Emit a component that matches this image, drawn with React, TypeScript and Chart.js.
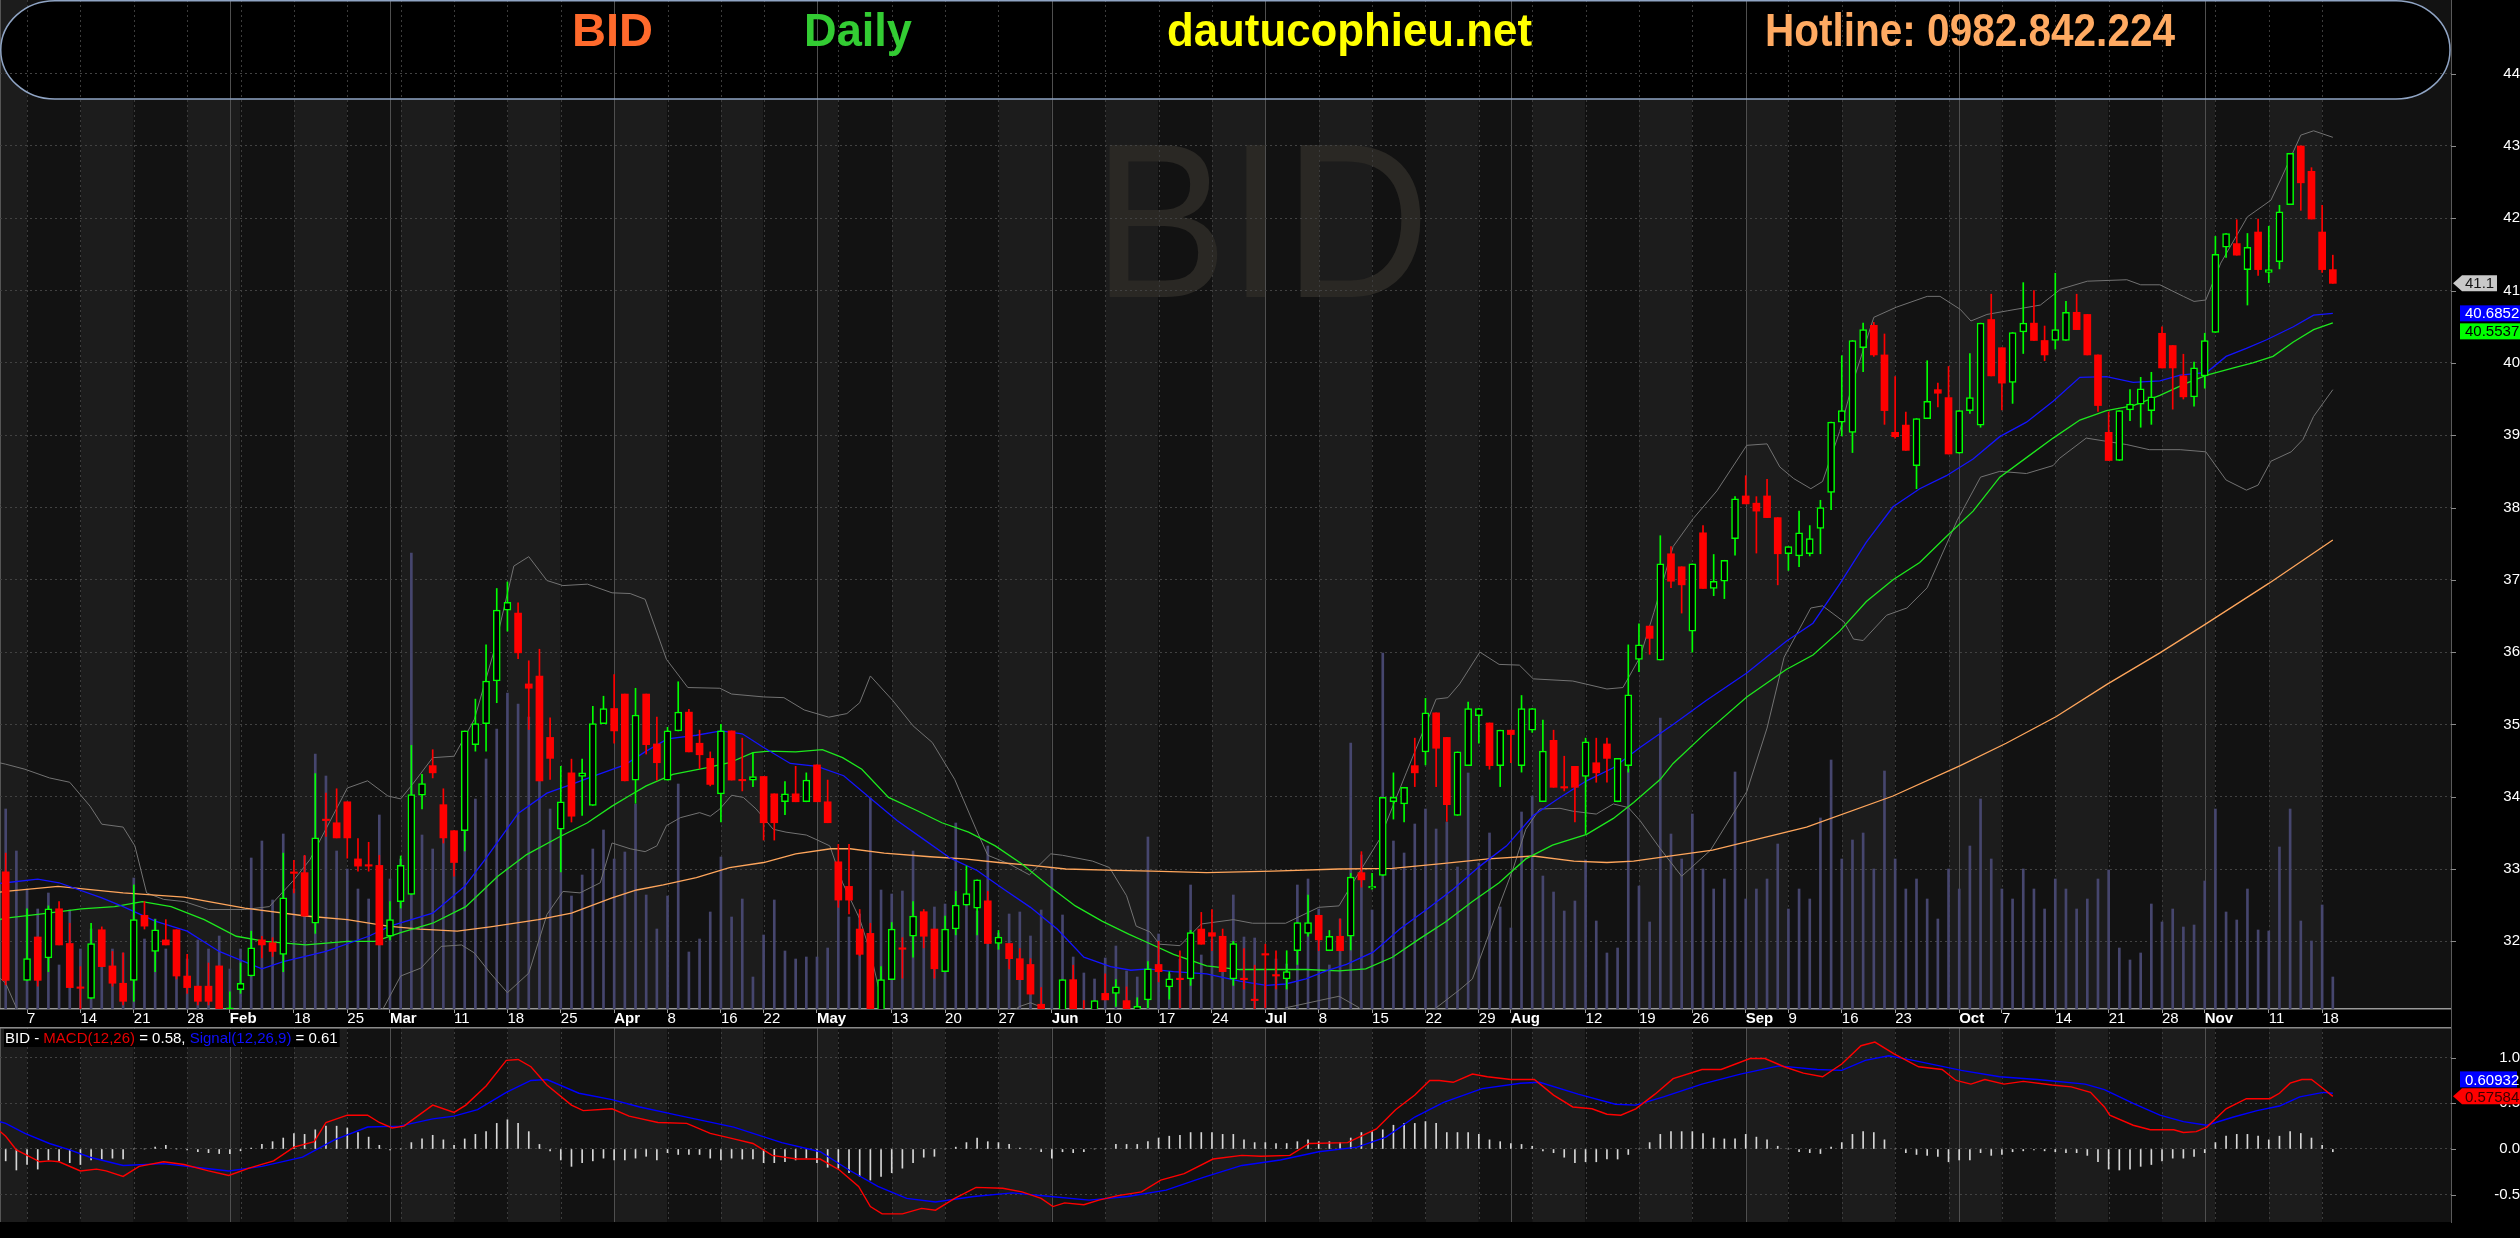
import React, { useEffect, useRef } from 'react';
import { Chart, registerables } from 'chart.js';

Chart.register(...registerables);

// ---------------- DATA ----------------
const symbol = 'BID';
const headerLabels = ['BID', 'Daily', 'dautucophieu.net', 'Hotline: 0982.842.224'];

// daily candles, 3 Jan 2019 .. 19 Nov 2019 (index 0..218)
const open = [
  32.96, 31.00, 31.46, 32.06, 31.77, 32.45, 31.97, 31.37, 31.21, 32.16,
  31.66, 31.42, 31.46, 32.36, 31.86, 32.02, 32.16, 31.52, 31.38, 31.38,
  31.66, 30.95, 31.33, 31.52, 32.02, 31.98, 31.82, 32.96, 32.95, 32.25,
  33.69, 33.64, 33.93, 33.14, 33.06, 33.05, 32.07, 32.55, 32.65, 34.02,
  34.43, 33.89, 33.53, 33.53, 34.72, 35.01, 35.60, 36.58, 36.54, 35.56,
  35.67, 34.82, 33.55, 34.33, 34.28, 33.88, 35.01, 35.22, 35.42, 34.23,
  35.42, 34.73, 34.23, 34.91, 35.17, 34.74, 34.53, 34.04, 34.91, 34.24,
  34.23, 34.28, 34.04, 33.93, 34.04, 33.93, 34.44, 33.93, 33.10, 32.76,
  32.17, 32.11, 31.00, 31.47, 31.91, 32.07, 32.41, 32.17, 31.58, 32.17,
  32.50, 32.46, 32.56, 31.97, 31.97, 31.76, 31.68, 31.13, 31.00, 31.00,
  31.47, 31.05, 31.00, 31.28, 31.28, 31.18, 31.00, 31.19, 31.68, 31.37,
  31.49, 31.48, 32.17, 32.12, 32.07, 31.48, 31.49, 31.20, 31.83, 31.54,
  31.48, 31.87, 32.11, 32.36, 31.87, 32.07, 32.07, 32.95, 32.74, 32.91,
  33.93, 33.90, 34.43, 34.62, 35.16, 34.82, 33.74, 34.43, 35.12, 35.02,
  34.43, 34.92, 34.43, 34.92, 33.93, 34.78, 34.14, 34.42, 34.28, 34.47,
  34.73, 33.93, 34.43, 35.90, 36.36, 35.89, 37.36, 37.18, 36.29, 37.65,
  36.88, 36.98, 37.57, 38.16, 38.06, 38.16, 37.86, 37.36, 37.33, 37.36,
  37.71, 38.21, 39.18, 39.04, 40.21, 40.52, 40.11, 39.04, 39.14, 38.58,
  39.23, 39.63, 39.52, 38.75, 39.34, 39.14, 40.60, 40.21, 39.73, 40.43,
  40.55, 40.31, 40.31, 40.31, 40.70, 40.67, 40.11, 39.04, 38.65, 39.35,
  39.43, 39.34, 40.41, 40.24, 39.82, 39.53, 39.82, 40.42, 41.60, 41.65,
  41.29, 41.81, 41.25, 41.40, 42.19, 43.00, 42.65, 41.81, 41.29,
];
const high = [
  33.22, 31.05, 32.45, 32.06, 32.49, 32.55, 32.25, 31.65, 32.25, 32.20,
  31.86, 31.84, 32.78, 32.55, 32.30, 32.30, 32.16, 31.82, 31.38, 31.70,
  31.66, 31.30, 31.70, 32.14, 32.07, 32.05, 33.22, 33.12, 33.19, 34.32,
  34.05, 34.11, 33.93, 33.42, 33.37, 33.19, 32.55, 33.18, 34.71, 34.31,
  34.65, 34.11, 33.53, 34.91, 35.35, 36.10, 36.88, 36.97, 36.68, 35.88,
  36.04, 35.09, 34.42, 34.52, 34.52, 35.25, 35.39, 35.69, 35.42, 35.50,
  35.42, 35.10, 34.96, 35.59, 35.21, 34.92, 34.62, 35.00, 34.91, 34.81,
  34.61, 34.28, 34.04, 34.21, 34.42, 34.33, 34.44, 34.23, 33.34, 33.34,
  32.44, 32.25, 31.65, 32.26, 32.05, 32.55, 32.44, 32.17, 32.35, 32.69,
  33.04, 32.85, 32.69, 32.15, 31.97, 31.90, 31.76, 31.36, 31.05, 31.47,
  31.67, 31.18, 31.18, 31.55, 31.47, 31.37, 31.22, 31.72, 32.00, 31.58,
  31.87, 32.15, 32.40, 32.44, 32.17, 32.00, 31.90, 31.67, 31.96, 31.87,
  31.87, 32.26, 32.64, 32.36, 32.15, 32.31, 32.94, 33.24, 32.94, 33.99,
  34.33, 34.13, 34.81, 35.36, 35.16, 34.82, 34.62, 35.31, 35.22, 35.02,
  34.92, 34.92, 35.40, 35.22, 35.06, 34.92, 34.56, 34.42, 34.81, 34.81,
  34.81, 34.53, 36.10, 36.39, 36.36, 37.61, 37.46, 37.18, 37.22, 37.75,
  37.35, 37.27, 38.15, 38.44, 38.15, 38.39, 37.86, 37.46, 37.95, 37.75,
  38.10, 39.18, 40.10, 40.31, 40.55, 40.56, 40.40, 39.81, 39.32, 39.23,
  40.03, 39.72, 39.95, 39.34, 40.13, 40.55, 40.95, 40.21, 40.42, 41.11,
  41.00, 40.51, 41.24, 40.85, 40.95, 40.67, 40.11, 39.32, 39.34, 39.63,
  39.80, 39.87, 40.50, 40.24, 40.12, 40.01, 40.41, 41.75, 41.79, 41.98,
  41.79, 41.99, 41.89, 42.18, 42.90, 43.00, 42.70, 42.18, 41.49,
];
const low = [
  31.40, 30.60, 31.46, 31.38, 31.58, 31.95, 31.36, 31.07, 31.21, 31.65,
  31.38, 31.12, 31.17, 32.17, 31.58, 31.95, 31.48, 31.28, 31.12, 31.12,
  30.90, 30.90, 31.28, 31.52, 31.77, 31.79, 31.58, 32.67, 32.35, 32.11,
  33.45, 33.43, 33.15, 32.97, 32.97, 31.95, 32.02, 32.46, 32.65, 33.83,
  34.26, 33.36, 32.90, 33.25, 34.63, 34.63, 35.30, 36.29, 35.91, 34.93,
  34.22, 34.24, 32.96, 33.65, 33.74, 33.88, 35.01, 34.74, 34.22, 33.91,
  34.59, 34.23, 34.23, 34.91, 34.62, 34.39, 34.15, 33.65, 34.23, 34.08,
  34.14, 33.40, 33.40, 33.75, 33.93, 33.93, 33.93, 33.64, 32.47, 32.38,
  31.80, 30.90, 30.90, 31.47, 31.49, 31.78, 31.91, 31.49, 31.58, 32.09,
  32.50, 32.09, 31.97, 31.89, 31.62, 31.47, 31.27, 30.95, 30.80, 30.95,
  30.95, 30.90, 30.95, 31.19, 31.10, 30.95, 30.95, 31.08, 31.44, 31.20,
  31.08, 31.39, 31.96, 31.87, 31.58, 31.39, 31.34, 31.05, 31.08, 31.34,
  31.34, 31.68, 32.07, 31.87, 31.87, 31.87, 31.88, 32.75, 32.72, 32.91,
  33.69, 33.65, 34.14, 34.44, 34.14, 33.66, 33.74, 34.43, 34.74, 34.38,
  34.14, 34.47, 34.34, 34.89, 33.93, 34.13, 34.08, 33.65, 33.49, 34.20,
  34.20, 33.93, 34.34, 35.73, 35.97, 35.89, 36.89, 36.54, 36.00, 36.88,
  36.78, 36.74, 37.34, 38.05, 37.37, 37.86, 36.93, 37.13, 37.18, 37.33,
  37.36, 37.97, 38.99, 38.76, 39.88, 40.09, 39.15, 38.96, 38.79, 38.26,
  39.23, 39.39, 38.74, 38.75, 39.30, 39.11, 39.82, 39.35, 39.44, 40.13,
  40.31, 40.03, 40.19, 40.31, 40.46, 40.11, 39.33, 38.65, 38.65, 39.20,
  39.11, 39.15, 39.93, 39.36, 39.50, 39.40, 39.65, 40.42, 41.46, 41.49,
  40.80, 41.21, 41.11, 41.30, 42.19, 42.11, 41.99, 41.25, 41.10,
];
const close = [
  31.46, 30.85, 31.76, 31.46, 32.45, 31.95, 31.36, 31.35, 31.97, 31.65,
  31.42, 31.17, 32.30, 32.21, 32.16, 31.95, 31.52, 31.36, 31.17, 31.17,
  30.95, 31.08, 31.42, 31.91, 31.95, 31.86, 32.60, 32.94, 32.35, 33.43,
  33.67, 33.43, 33.43, 33.04, 33.04, 31.95, 32.30, 33.05, 34.03, 34.18,
  34.33, 33.43, 33.09, 34.91, 35.01, 35.60, 36.58, 36.69, 35.99, 35.50,
  34.22, 34.53, 33.93, 33.73, 34.33, 35.01, 35.22, 34.91, 34.22, 35.13,
  34.72, 34.47, 34.91, 35.17, 34.62, 34.58, 34.17, 34.91, 34.23, 34.22,
  34.28, 33.64, 33.64, 34.04, 33.93, 34.23, 33.93, 33.64, 32.57, 32.57,
  31.82, 31.00, 31.47, 32.17, 31.89, 32.35, 32.07, 31.62, 32.17, 32.50,
  32.66, 32.85, 31.97, 32.06, 31.76, 31.47, 31.27, 31.00, 30.90, 31.47,
  31.00, 31.00, 31.18, 31.19, 31.37, 31.00, 31.10, 31.62, 31.58, 31.48,
  31.47, 32.12, 31.96, 32.07, 31.58, 31.97, 31.47, 31.18, 31.81, 31.52,
  31.58, 32.26, 32.26, 32.02, 32.07, 31.87, 32.89, 32.85, 32.76, 33.99,
  33.99, 34.13, 34.33, 35.16, 34.67, 33.89, 34.62, 35.22, 35.22, 34.43,
  34.92, 34.86, 35.22, 35.22, 34.63, 34.13, 34.12, 34.13, 34.76, 34.33,
  34.53, 34.53, 35.41, 36.10, 36.19, 37.22, 36.98, 36.93, 37.22, 36.88,
  36.98, 37.27, 38.12, 38.05, 37.95, 37.86, 37.36, 37.46, 37.65, 37.57,
  38.00, 39.18, 39.34, 40.31, 40.46, 40.11, 39.34, 38.98, 38.79, 39.23,
  39.47, 39.58, 38.74, 39.34, 39.52, 40.55, 39.82, 39.72, 40.42, 40.55,
  40.31, 40.11, 40.46, 40.70, 40.46, 40.11, 39.41, 38.65, 39.34, 39.43,
  39.64, 39.53, 39.93, 39.93, 39.53, 39.93, 40.31, 41.50, 41.79, 41.49,
  41.60, 41.29, 41.29, 42.09, 42.90, 42.49, 41.99, 41.29, 41.10,
];
// volume, million shares
const volume = [
  4.0, 3.16, 2.4, 2.0, 2.32, 0.88, 1.98, 1.2, 1.6, 1.5,
  1.2, 1.12, 2.62, 1.4, 1.8, 1.2, 1.4, 1.0, 1.38, 1.2,
  1.46, 0.8, 1.2, 3.02, 3.36, 2.18, 3.5, 2.4, 3.06, 5.1,
  4.66, 3.16, 2.8, 2.4, 2.2, 3.88, 2.6, 3.0, 9.12, 3.48,
  3.2, 3.6, 3.0, 4.0, 4.2, 5.0, 5.6, 6.32, 6.1, 5.84,
  5.0, 4.0, 3.6, 2.26, 2.68, 3.2, 3.58, 3.0, 3.14, 4.1,
  2.28, 1.6, 2.26, 4.5, 1.14, 1.4, 1.94, 3.04, 1.84, 2.2,
  0.64, 1.48, 2.18, 1.16, 1.0, 1.04, 1.04, 1.22, 2.2, 1.84,
  1.9, 4.22, 2.38, 2.3, 2.36, 3.16, 1.72, 2.04, 2.1, 3.72,
  2.24, 1.96, 3.26, 1.52, 1.9, 1.94, 1.46, 1.98, 2.84, 1.88,
  1.04, 0.72, 0.6, 1.02, 1.26, 0.76, 0.64, 3.44, 1.5, 0.7,
  1.0, 2.48, 1.08, 1.4, 1.3, 2.28, 1.44, 1.42, 0.8, 1.0,
  0.9, 2.48, 2.6, 2.0, 0.88, 1.8, 5.32, 3.08, 1.98, 7.12,
  3.36, 3.12, 3.7, 4.0, 3.6, 3.74, 2.84, 4.72, 2.92, 3.52,
  2.04, 1.62, 3.94, 4.26, 2.66, 2.34, 1.96, 2.16, 2.98, 1.76,
  1.12, 1.22, 4.8, 2.46, 1.74, 5.82, 3.5, 3.0, 3.9, 2.8,
  2.4, 2.6, 4.74, 2.2, 2.4, 2.6, 3.3, 2.0, 2.4, 2.2,
  3.82, 4.98, 3.0, 3.38, 3.52, 2.8, 4.76, 3.0, 2.4, 2.6,
  2.2, 1.8, 2.8, 2.4, 3.26, 4.2, 3.0, 2.4, 2.2, 2.8,
  2.4, 2.0, 2.6, 2.4, 2.0, 2.2, 2.6, 2.78, 1.22, 0.98,
  1.12, 2.1, 1.74, 2.0, 1.64, 1.68, 2.56, 4.0, 1.94, 1.78,
  2.4, 1.58, 1.56, 3.24, 4.0, 1.76, 1.36, 2.08, 0.64,
];
// indicator lines, read as [bar index, value]
const maFast = [
  [-0.6, 32.8], [0, 32.81], [3, 32.86], [5, 32.81], [9, 32.6], [11, 32.48], [14, 32.28], [17, 32.14], [20, 31.86], [24, 31.62],
  [26, 31.72], [30, 31.86], [34, 32.07], [36, 32.21], [40, 32.39], [43, 32.76], [45, 33.15], [48, 33.77], [50.7, 34.05], [53, 34.17],
  [55, 34.28], [58, 34.44], [60, 34.63], [62, 34.8], [64.7, 34.85], [67, 34.91], [69, 34.87], [71, 34.68], [73.5, 34.46], [76, 34.42],
  [78.5, 34.29], [81, 33.98], [83.5, 33.67], [86, 33.41], [88.5, 33.15], [91, 32.98], [93.5, 32.72], [96, 32.47], [98.5, 32.17], [101, 31.78],
  [103.5, 31.65], [105.4, 31.6], [107, 31.62], [109.4, 31.58], [112.5, 31.55], [115.6, 31.45], [118.1, 31.39], [119.9, 31.41], [121.8, 31.48], [123.7, 31.59],
  [125.6, 31.68], [128.1, 31.85], [130.6, 32.17], [133.1, 32.44], [135.6, 32.72], [138.1, 33.04], [140.6, 33.32], [143.1, 33.74], [145.6, 33.99], [148.1, 34.22],
  [150.6, 34.4], [153.1, 34.68], [156.2, 35.0], [159.3, 35.33], [163.1, 35.71], [166.8, 36.15], [169.3, 36.4], [171.8, 36.94], [174.3, 37.52], [176.8, 38.01],
  [179.3, 38.26], [181.8, 38.44], [184.3, 38.67], [186.8, 38.98], [189.3, 39.18], [191.8, 39.47], [194.3, 39.8], [196.8, 39.81], [199.3, 39.73], [201.8, 39.75],
  [203.7, 39.83], [206.2, 39.87], [208, 40.09], [209.9, 40.2], [211.8, 40.32], [214.3, 40.5], [216.2, 40.66], [218, 40.6852],
];
const maMid = [
  [-0.6, 32.3], [0, 32.32], [3.4, 32.38], [7.1, 32.45], [10.2, 32.48], [12.8, 32.55], [15.5, 32.48], [18.6, 32.3], [21.6, 32.07], [24.3, 32.0],
  [28.1, 31.95], [32, 32.0], [34.6, 32.0], [37, 32.12], [40, 32.25], [43.1, 32.48], [46.1, 32.9], [48.8, 33.2], [51.8, 33.44], [54.5, 33.64],
  [56.8, 33.87], [58.5, 34.02], [60, 34.15], [62.5, 34.31], [65.6, 34.4], [67.8, 34.47], [70, 34.61], [71.5, 34.63], [74, 34.62], [76.5, 34.65],
  [78.4, 34.54], [80.2, 34.38], [82.7, 33.99], [85.2, 33.82], [87.7, 33.64], [90.2, 33.51], [92.7, 33.32], [95.2, 33.07], [97.7, 32.77], [100.2, 32.49],
  [102.7, 32.28], [105.2, 32.1], [107, 31.98], [109.4, 31.82], [112.5, 31.66], [115.6, 31.61], [118.7, 31.61], [121.8, 31.61], [124.9, 31.59], [127.4, 31.62],
  [129.9, 31.78], [132.4, 32.03], [134.9, 32.27], [137.4, 32.55], [139.9, 32.81], [142.4, 33.14], [144.9, 33.33], [148.1, 33.48], [150.6, 33.7], [152.5, 33.92],
  [155, 34.24], [156.2, 34.46], [159.3, 34.89], [163.1, 35.38], [166.8, 35.76], [169.3, 35.96], [171.8, 36.29], [174.3, 36.7], [176.8, 37.0], [179.3, 37.24],
  [181.8, 37.6], [184.3, 37.95], [186.8, 38.42], [189.3, 38.69], [191.8, 38.96], [194.3, 39.21], [196.8, 39.34], [199.3, 39.41], [201.8, 39.55], [204.3, 39.72],
  [206.2, 39.83], [208.7, 39.93], [210.5, 40.0], [212.4, 40.09], [214.3, 40.29], [216.2, 40.46], [218, 40.5537],
];
const maLong = [
  [-0.6, 32.68], [0, 32.69], [4.9, 32.76], [11, 32.67], [16.7, 32.61], [22.4, 32.46], [28.1, 32.35], [32, 32.3], [35.8, 32.21], [38.8, 32.17],
  [42.3, 32.14], [45.4, 32.2], [49.9, 32.3], [53, 32.39], [56.8, 32.6], [59.1, 32.71], [61.6, 32.78], [64.7, 32.88], [67.8, 33.02], [71, 33.09],
  [74, 33.21], [77.3, 33.28], [79.1, 33.28], [82.3, 33.22], [86.6, 33.17], [89.8, 33.14], [93, 33.09], [96.1, 33.05], [99.3, 33.0], [104, 32.98],
  [107.4, 32.97], [112.5, 32.95], [118.7, 32.97], [124.9, 33.0], [129.9, 33.01], [134.3, 33.07], [138.9, 33.14], [143.1, 33.18], [146.9, 33.11], [150, 33.09],
  [152.5, 33.11], [155, 33.16], [159.9, 33.26], [168.7, 33.58], [176.8, 34.01], [183.1, 34.43], [187.4, 34.74], [192.1, 35.11], [196.8, 35.55], [201.8, 35.99],
  [206, 36.38], [212, 36.95], [218, 37.55],
];
const bbUpper = [
  [-0.6, 34.47], [0, 34.45], [1.8, 34.38], [4.1, 34.26], [6, 34.2], [7.9, 33.87], [9, 33.62], [11, 33.58], [12.1, 33.32], [13.2, 32.67],
  [14.8, 32.58], [16.7, 32.55], [19, 32.44], [22.4, 32.44], [24.7, 32.48], [27, 32.85], [28.5, 33.13], [32, 34.12], [33.9, 34.22], [35.8, 34.01],
  [37, 33.97], [38.1, 34.17], [40, 34.54], [42, 34.56], [43.9, 35.07], [45.7, 35.99], [47.6, 37.19], [49, 37.32], [50.7, 36.99], [52.2, 36.92],
  [54.5, 36.94], [56.8, 36.82], [58.5, 36.81], [59.9, 36.73], [61.9, 35.9], [63.9, 35.51], [66.9, 35.5], [68, 35.42], [71, 35.38], [72.9, 35.37],
  [74.8, 35.2], [77.1, 35.1], [78.8, 35.15], [80, 35.3], [81, 35.67], [83.1, 35.33], [85, 34.98], [86.8, 34.75], [88.9, 34.24], [90.9, 33.55],
  [92, 33.19], [94, 33.07], [95.9, 32.92], [97.9, 33.21], [99, 33.19], [101.8, 33.11], [103.4, 33.02], [105, 32.63], [105.9, 32.21], [107.2, 32.13],
  [108.1, 31.96], [110, 31.94], [112, 32.24], [115, 32.3], [116.8, 32.25], [119.9, 32.25], [123, 32.47], [124.9, 32.49], [126.2, 32.81], [128.7, 33.41],
  [131.2, 34.33], [134, 35.35], [135.1, 35.37], [136.2, 35.56], [138.1, 36.0], [139.9, 35.83], [141.8, 35.82], [143.1, 35.63], [146.8, 35.6], [150, 35.49],
  [151.5, 35.51], [153.1, 35.93], [154.4, 36.55], [156.2, 37.46], [158.1, 37.85], [160.3, 38.23], [163.1, 38.86], [165, 38.88], [166.2, 38.56], [167.5, 38.4],
  [169.1, 38.26], [170.2, 38.36], [171.8, 39.05], [173.1, 39.76], [175, 40.63], [177.1, 40.77], [180, 40.92], [181.2, 40.92], [183.1, 40.74], [184.1, 40.58],
  [185.6, 40.67], [187.5, 40.72], [190.6, 40.8], [192.5, 41.02], [195, 41.13], [198.7, 41.15], [200, 41.08], [201.8, 41.08], [204, 40.92], [205, 40.85],
  [206.1, 40.87], [207.5, 41.38], [210, 42.02], [212.2, 42.25], [213.1, 42.53], [215, 43.15], [216.2, 43.21], [218, 43.12],
];
const bbLower = [
  [-0.6, 31.5], [0, 31.42], [1, 31.08], [2, 30.8], [6, 30.6], [12, 30.7], [18, 30.6], [24, 30.5], [30, 30.6], [34, 30.9],
  [35.4, 31.08], [37, 31.52], [38.9, 31.63], [40.8, 31.93], [42.7, 31.95], [43.9, 31.84], [45.4, 31.56], [47, 31.29], [49, 31.56], [50.7, 32.37],
  [52.2, 32.69], [53.8, 32.67], [55.7, 32.81], [56.8, 33.36], [58.5, 33.28], [59.9, 33.24], [61, 33.32], [61.9, 33.6], [63.2, 33.71], [65, 33.78],
  [66, 33.73], [66.9, 33.83], [68, 34.02], [69.1, 33.99], [70.3, 33.83], [71.9, 33.55], [73.1, 33.51], [75, 33.47], [75.9, 33.41], [77.2, 33.32],
  [78.4, 32.81], [80, 32.31], [81, 31.85], [82.2, 31.08], [84, 30.7], [88, 30.6], [92, 30.8], [95, 31.1], [96, 31.15], [97.2, 31.08],
  [99, 30.8], [105, 30.6], [112, 30.7], [118, 30.9], [119.9, 31.08], [123, 31.18], [124.9, 31.24], [126.8, 31.08], [129, 30.7], [132, 30.7],
  [134, 31.08], [136.2, 31.33], [137.4, 31.48], [139, 32.12], [139.9, 32.49], [141.2, 33.0], [142.4, 33.55], [143.7, 33.83], [145.6, 33.84], [146.8, 33.8],
  [149, 33.76], [150.6, 33.9], [152, 33.85], [153.1, 33.67], [155, 33.28], [157, 32.9], [159.7, 33.26], [163.1, 34.07], [165, 34.95], [166.6, 35.93],
  [169.1, 36.61], [170.2, 36.64], [172.2, 36.42], [173.1, 36.18], [174, 36.16], [176.2, 36.51], [178.1, 36.61], [180, 36.89], [182.8, 37.82], [185, 38.42],
  [186.8, 38.5], [189.3, 38.47], [191.8, 38.58], [192.4, 38.68], [194.9, 38.96], [198.7, 38.87], [200.8, 38.8], [203.7, 38.8], [206.1, 38.77], [208, 38.38],
  [209.9, 38.24], [211, 38.31], [212.2, 38.64], [214.1, 38.77], [215.2, 38.94], [216.2, 39.26], [218, 39.63],
];
const macdLine = [
  [-0.6, 0.2], [0, 0.14], [1, -0.01], [3.2, -0.14], [4.1, -0.13], [5, -0.14], [7, -0.24], [8.5, -0.22], [9.4, -0.24], [11, -0.3],
  [12.5, -0.19], [14.8, -0.14], [16.7, -0.17], [19, -0.24], [20.9, -0.29], [22.8, -0.21], [25.1, -0.13], [27, 0.02], [28.9, 0.08], [30, 0.29],
  [32, 0.37], [33.9, 0.37], [35, 0.29], [36.2, 0.23], [37.3, 0.25], [40, 0.48], [42, 0.4], [43.1, 0.48], [45, 0.69], [46.9, 0.97],
  [48, 0.98], [49.2, 0.9], [50.7, 0.7], [53, 0.48], [54.1, 0.42], [56.8, 0.44], [58.4, 0.36], [61.1, 0.29], [63.8, 0.28], [66, 0.17],
  [68.2, 0.11], [70, 0.06], [71.8, -0.07], [74.1, -0.11], [76.3, -0.11], [78.1, -0.23], [79.9, -0.41], [81, -0.63], [82.1, -0.71], [84, -0.71],
  [85.8, -0.65], [87.1, -0.67], [88.9, -0.54], [90.9, -0.42], [93.4, -0.43], [95.2, -0.47], [97, -0.54], [98.1, -0.63], [99.2, -0.59], [101, -0.61],
  [102.4, -0.56], [104.2, -0.51], [106.4, -0.47], [108.2, -0.34], [110.4, -0.27], [113.1, -0.11], [115.8, -0.07], [117.6, -0.08], [120.3, -0.07], [122.1, 0.06],
  [125.7, 0.07], [128.4, 0.22], [130.2, 0.43], [132, 0.59], [133.4, 0.75], [134.3, 0.75], [135.6, 0.73], [137.4, 0.82], [138.8, 0.79], [141, 0.76],
  [143.2, 0.76], [145, 0.59], [146.8, 0.46], [148.6, 0.44], [150, 0.38], [151.3, 0.37], [152.7, 0.44], [154.5, 0.6], [156.2, 0.77], [158.9, 0.87],
  [160.7, 0.87], [163.4, 0.99], [164.8, 0.99], [166.6, 0.9], [168.4, 0.83], [170.2, 0.79], [172, 0.93], [173.8, 1.13], [175.1, 1.17], [176.9, 1.04],
  [179.2, 0.9], [181.4, 0.87], [182.7, 0.75], [184.1, 0.71], [185.4, 0.76], [187.2, 0.71], [189, 0.74], [191.7, 0.7], [193.5, 0.68], [195.3, 0.62],
  [196.6, 0.46], [197.1, 0.37], [199.3, 0.26], [200.9, 0.21], [203.1, 0.21], [204, 0.18], [205.2, 0.19], [206.2, 0.24], [208, 0.44], [209.9, 0.55],
  [212.1, 0.55], [213, 0.61], [214, 0.72], [215.1, 0.76], [216, 0.76], [217, 0.67], [218, 0.57584],
];
const signalLine = [
  [-0.6, 0.3], [0, 0.28], [1.8, 0.17], [4.1, 0.06], [6, -0.01], [7.9, -0.09], [11, -0.18], [14.8, -0.16], [17.8, -0.2], [20.9, -0.24],
  [24, -0.19], [27.8, -0.09], [30.8, 0.1], [33.9, 0.24], [36.9, 0.25], [40, 0.33], [42, 0.36], [44.2, 0.43], [46.9, 0.62], [49.2, 0.75],
  [50.7, 0.76], [53.7, 0.61], [56.8, 0.54], [59.4, 0.46], [62.9, 0.37], [68.2, 0.24], [72.7, 0.07], [76.3, -0.03], [79, -0.23], [81.7, -0.41],
  [84.4, -0.54], [87.1, -0.58], [90.7, -0.52], [94.3, -0.48], [97.9, -0.52], [101.5, -0.56], [105.1, -0.52], [108.7, -0.45], [112.2, -0.31], [115.8, -0.18],
  [119.4, -0.12], [123, -0.03], [126.6, 0.02], [129.3, 0.13], [132, 0.35], [134.7, 0.51], [138.3, 0.66], [141.9, 0.72], [143.7, 0.73], [147.3, 0.6],
  [150.8, 0.49], [152.7, 0.48], [155.3, 0.57], [158.9, 0.71], [162.5, 0.82], [166.1, 0.91], [169.7, 0.87], [172, 0.86], [174.2, 0.97], [176.4, 1.02],
  [178.7, 0.97], [183.2, 0.86], [186.8, 0.79], [190.3, 0.76], [194.8, 0.71], [196.6, 0.65], [199.3, 0.5], [201.8, 0.37], [204, 0.3], [206.2, 0.26],
  [208.7, 0.35], [210.9, 0.42], [213, 0.47], [214.9, 0.57], [217.1, 0.62], [218, 0.60932],
];
const macdHist = [
  -0.13, -0.23, -0.17, -0.22, -0.12, -0.13, -0.15, -0.17, -0.12, -0.11,
  -0.1, -0.11, 0, 0, 0.02, 0.04, 0, -0.01, -0.03, -0.04,
  -0.05, -0.05, -0.02, 0.01, 0.05, 0.08, 0.12, 0.17, 0.16, 0.21,
  0.25, 0.25, 0.23, 0.18, 0.13, 0.04, -0.01, 0, 0.07, 0.11,
  0.15, 0.1, 0.04, 0.11, 0.16, 0.19, 0.28, 0.32, 0.28, 0.19,
  0.05, -0.02, -0.12, -0.19, -0.15, -0.13, -0.1, -0.12, -0.12, -0.1,
  -0.08, -0.12, -0.04, -0.06, -0.06, -0.06, -0.1, -0.12, -0.1, -0.11,
  -0.11, -0.15, -0.15, -0.14, -0.12, -0.1, -0.15, -0.2, -0.21, -0.26,
  -0.3, -0.34, -0.3, -0.26, -0.21, -0.15, -0.09, -0.08, 0, 0.02,
  0.07, 0.12, 0.08, 0.07, 0.05, 0.01, 0, -0.03, -0.1, -0.03,
  -0.04, -0.03, 0, 0, 0.05, 0.05, 0.05, 0.08, 0.12, 0.14,
  0.15, 0.18, 0.18, 0.18, 0.16, 0.16, 0.1, 0.07, 0.07, 0.06,
  0.06, 0.08, 0.1, 0.08, 0.08, 0.07, 0.12, 0.18, 0.19, 0.21,
  0.26, 0.28, 0.28, 0.3, 0.28, 0.18, 0.18, 0.18, 0.16, 0.1,
  0.08, 0.06, 0.05, 0.03, -0.02, -0.04, -0.09, -0.15, -0.14, -0.14,
  -0.11, -0.11, -0.06, 0, 0.07, 0.16, 0.19, 0.19, 0.19, 0.17,
  0.12, 0.11, 0.11, 0.16, 0.13, 0.1, 0.03, 0, -0.03, -0.04,
  -0.05, 0.02, 0.07, 0.16, 0.19, 0.18, 0.1, 0, -0.04, -0.06,
  -0.07, -0.08, -0.14, -0.12, -0.12, -0.04, -0.07, -0.06, -0.03, -0.02,
  -0.01, -0.02, -0.03, -0.04, -0.04, -0.07, -0.14, -0.22, -0.23, -0.22,
  -0.19, -0.17, -0.13, -0.1, -0.1, -0.08, -0.04, 0.07, 0.14, 0.16,
  0.16, 0.14, 0.1, 0.14, 0.19, 0.17, 0.12, 0.04, -0.03,
];
// calendar: first bar of every week, first bar of every month, date labels
const weekStart = [0, 2, 7, 12, 17, 22, 27, 32, 37, 42, 47, 52, 57, 62, 67, 71, 76, 78, 83, 88, 93, 98, 103, 108, 113, 118, 123, 128, 133, 138, 143, 148, 153, 158, 163, 167, 172, 177, 182, 187, 192, 197, 202, 207, 212, 217];
const monthStart = [21, 36, 57, 76, 98, 118, 141, 163, 183, 206];
const tickIdx = [2, 7, 12, 17, 21, 27, 32, 36, 42, 47, 52, 57, 62, 67, 71, 76, 83, 88, 93, 98, 103, 108, 113, 118, 123, 128, 133, 138, 141, 148, 153, 158, 163, 167, 172, 177, 183, 187, 192, 197, 202, 206, 212, 217];
const tickText = ['7', '14', '21', '28', 'Feb', '18', '25', 'Mar', '11', '18', '25', 'Apr', '8', '16', '22', 'May', '13', '20', '27', 'Jun', '10', '17', '24', 'Jul', '8', '15', '22', '29', 'Aug', '12', '19', '26', 'Sep', '9', '16', '23', 'Oct', '7', '14', '21', '28', 'Nov', '11', '18'];
const priceTicks = [32, 33, 34, 35, 36, 37, 38, 39, 40, 41, 42, 43, 44];
const macdTicks = [-0.5, 0, 0.5, 1];

// ---------------- LAYOUT / STYLE ----------------
const FONT = '"Liberation Sans", Arial, sans-serif';
const X_MIN = -0.534;
const X_MAX = 229.07;
const Y_MIN = 31.064;
const Y_MAX = 45.019;
const VOL_MAX = 20.18;
const M_MIN = -0.799;
const M_MAX = 1.335;
const LIGHT = '#1c1c1c';
const DARK = '#121212';
const UP = '#00ff00';
const DOWN = '#ff0000';
const headerStyle = [
  { x: 572, w: 81, color: '#ff6a2c' },
  { x: 804, w: 108, color: '#33cc33' },
  { x: 1167, w: 365, color: '#ffff00' },
  { x: 1765, w: 410, color: '#ffaa62' },
];

const pts = (a: number[][]) => a.map(([x, y]) => ({ x, y }));
const last = (a: number[][]) => a[a.length - 1][1];

function paintBase(chart: any) {
  const { ctx, chartArea: ca } = chart;
  const xs = chart.scales.x;
  ctx.save();
  ctx.fillStyle = '#000';
  ctx.fillRect(0, 0, chart.width, chart.height);
  for (let k = 0; k < weekStart.length; k++) {
    const x0 = k === 0 ? ca.left : xs.getPixelForValue(weekStart[k]);
    const x1 = k + 1 < weekStart.length ? xs.getPixelForValue(weekStart[k + 1]) : ca.right;
    ctx.fillStyle = k % 2 === 0 ? LIGHT : DARK;
    ctx.fillRect(x0, ca.top, x1 - x0, ca.bottom - ca.top);
  }
  ctx.restore();
}

function paintVLines(chart: any) {
  const { ctx, chartArea: ca } = chart;
  const xs = chart.scales.x;
  const idx = Array.from(new Set([...weekStart.slice(1), ...monthStart])).sort((a, b) => a - b);
  ctx.save();
  ctx.lineWidth = 1;
  for (const i of idx) {
    const px = Math.round(xs.getPixelForValue(i)) + 0.5;
    const major = monthStart.includes(i);
    ctx.strokeStyle = major ? '#4f4f4f' : '#3c3c3c';
    ctx.setLineDash(major ? [] : [2, 3]);
    ctx.beginPath();
    ctx.moveTo(px, ca.top);
    ctx.lineTo(px, ca.bottom);
    ctx.stroke();
  }
  ctx.setLineDash([]);
  ctx.strokeStyle = '#555';
  ctx.beginPath();
  ctx.moveTo(ca.left + 0.5, ca.top);
  ctx.lineTo(ca.left + 0.5, ca.bottom);
  ctx.stroke();
  ctx.restore();
}

function paintYTicks(chart: any, values: number[]) {
  const { ctx, chartArea: ca } = chart;
  const ys = chart.scales.y;
  ctx.save();
  ctx.strokeStyle = '#8a8a8a';
  ctx.lineWidth = 1;
  for (const v of values) {
    const y = Math.round(ys.getPixelForValue(v)) + 0.5;
    ctx.beginPath();
    ctx.moveTo(ca.right, y);
    ctx.lineTo(ca.right + 5, y);
    ctx.stroke();
  }
  ctx.restore();
}

function pillPath(ctx: CanvasRenderingContext2D) {
  const x0 = 0.75, x1 = 2450, y0 = 0.75, y1 = 99;
  const rx = 54, ry = (y1 - y0) / 2, cy = (y0 + y1) / 2;
  ctx.beginPath();
  ctx.moveTo(x0 + rx, y0);
  ctx.lineTo(x1 - rx, y0);
  ctx.ellipse(x1 - rx, cy, rx, ry, 0, -Math.PI / 2, Math.PI / 2);
  ctx.lineTo(x0 + rx, y1);
  ctx.ellipse(x0 + rx, cy, rx, ry, 0, Math.PI / 2, (3 * Math.PI) / 2);
  ctx.closePath();
}

function fitText(ctx: CanvasRenderingContext2D, text: string, x: number, base: number, w: number, font: string, color: string) {
  ctx.save();
  ctx.font = font;
  const m = ctx.measureText(text).width || 1;
  ctx.translate(x, base);
  ctx.scale(w / m, 1);
  ctx.fillStyle = color;
  ctx.textAlign = 'left';
  ctx.textBaseline = 'alphabetic';
  ctx.fillText(text, 0, 0);
  ctx.restore();
}

function arrowTag(ctx: CanvasRenderingContext2D, tipX: number, x1: number, yc: number, fill: string, text: string, color: string, tx: number) {
  ctx.fillStyle = fill;
  ctx.beginPath();
  ctx.moveTo(tipX, yc);
  ctx.lineTo(tipX + 9, yc - 8);
  ctx.lineTo(x1, yc - 8);
  ctx.lineTo(x1, yc + 8);
  ctx.lineTo(tipX + 9, yc + 8);
  ctx.closePath();
  ctx.fill();
  ctx.fillStyle = color;
  ctx.font = '15px ' + FONT;
  ctx.textBaseline = 'middle';
  ctx.textAlign = 'left';
  ctx.fillText(text, tx, yc + 1);
}

function boxTag(ctx: CanvasRenderingContext2D, x0: number, x1: number, top: number, fill: string, text: string, color: string) {
  ctx.fillStyle = fill;
  ctx.fillRect(x0, top, x1 - x0, 16);
  ctx.fillStyle = color;
  ctx.font = '15px ' + FONT;
  ctx.textBaseline = 'middle';
  ctx.textAlign = 'left';
  ctx.fillText(text, x0 + 5, top + 9);
}

const pricePlugin = {
  id: 'priceDecor',
  beforeDraw(chart: any) {
    paintBase(chart);
    const { ctx } = chart;
    ctx.save();
    pillPath(ctx);
    ctx.fillStyle = '#000';
    ctx.fill();
    ctx.font = '220px ' + FONT;
    const m = ctx.measureText(symbol).width || 1;
    ctx.translate(1093, 297);
    ctx.scale(337 / m, 1);
    ctx.fillStyle = '#2a2824';
    ctx.textBaseline = 'alphabetic';
    ctx.fillText(symbol, 0, 0);
    ctx.restore();
    paintVLines(chart);
  },
  afterDraw(chart: any) {
    const { ctx, chartArea: ca } = chart;
    const ys = chart.scales.y;
    paintYTicks(chart, priceTicks);
    ctx.save();
    pillPath(ctx);
    ctx.strokeStyle = '#8fa4c4';
    ctx.lineWidth = 1.5;
    ctx.stroke();
    headerLabels.forEach((t, i) => {
      const s = headerStyle[i];
      fitText(ctx, t, s.x, 46, s.w, 'bold 47px "Liberation Sans Narrow", ' + FONT, s.color);
    });
    ctx.strokeStyle = '#5a5a5a';
    ctx.lineWidth = 1;
    ctx.beginPath();
    ctx.moveTo(ca.right + 0.5, ca.bottom);
    ctx.lineTo(ca.right + 0.5, chart.height);
    ctx.stroke();
    const lc = close[close.length - 1];
    arrowTag(ctx, ca.right + 2, ca.right + 46, ys.getPixelForValue(lc), '#c8c8c8', String(lc), '#151515', ca.right + 14);
    const fb = last(maFast), fg = last(maMid);
    const topB = ys.getPixelForValue(fb) - 8;
    const topG = Math.max(ys.getPixelForValue(fg) - 8, topB + 18);
    boxTag(ctx, ca.right + 9, chart.width, topB, '#0000ff', fb.toFixed(4), '#ffffff');
    boxTag(ctx, ca.right + 9, chart.width, topG, '#00ff00', fg.toFixed(4), '#000000');
    ctx.restore();
  },
};

const macdPlugin = {
  id: 'macdDecor',
  beforeDraw(chart: any) {
    paintBase(chart);
    paintVLines(chart);
  },
  afterDraw(chart: any) {
    const { ctx, chartArea: ca } = chart;
    const ys = chart.scales.y;
    paintYTicks(chart, macdTicks);
    ctx.save();
    ctx.strokeStyle = '#8a8a8a';
    ctx.lineWidth = 1.5;
    ctx.beginPath();
    ctx.moveTo(0, 0.75);
    ctx.lineTo(ca.right, 0.75);
    ctx.stroke();
    const mv = last(macdLine), sv = last(signalLine);
    const parts: [string, string][] = [
      [symbol + ' - ', '#ffffff'],
      ['MACD(12,26)', '#e80000'],
      [' = ' + mv.toFixed(2) + ', ', '#ffffff'],
      ['Signal(12,26,9)', '#1010ff'],
      [' = ' + sv.toFixed(2), '#ffffff'],
    ];
    ctx.font = '15px ' + FONT;
    const total = parts.reduce((s, p) => s + ctx.measureText(p[0]).width, 0);
    ctx.fillStyle = '#000';
    ctx.fillRect(4, 2, total + 3, 18);
    let x = 5;
    ctx.textBaseline = 'alphabetic';
    ctx.textAlign = 'left';
    for (const [t, c] of parts) {
      ctx.fillStyle = c;
      ctx.fillText(t, x, 16);
      x += ctx.measureText(t).width;
    }
    const yR = ys.getPixelForValue(mv);
    const yB = ys.getPixelForValue(sv);
    const topB = Math.min(yB - 8, yR - 8 - 17);
    boxTag(ctx, ca.right + 9, ca.right + 66, topB, '#0000ff', sv.toFixed(5), '#ffffff');
    arrowTag(ctx, ca.right + 2, chart.width, yR, '#ff0000', mv.toFixed(5), '#3a0000', ca.right + 14);
    ctx.restore();
  },
};

export default function App() {
  const priceRef = useRef<HTMLCanvasElement>(null);
  const macdRef = useRef<HTMLCanvasElement>(null);

  useEffect(() => {
    const up = close.map((c, i) => c >= open[i]);
    const candleColor = up.map((u) => (u ? UP : DOWN));
    const xScale = (display: boolean) => ({
      type: 'linear',
      min: X_MIN,
      max: X_MAX,
      offset: false,
      display,
      position: 'bottom',
      afterBuildTicks: (s: any) => {
        s.ticks = tickIdx.map((v) => ({ value: v }));
      },
      afterFit: (s: any) => {
        s.height = display ? 18 : 0;
      },
      grid: { display: true, drawOnChartArea: false, drawTicks: true, tickLength: 4, color: '#9a9a9a', offset: false },
      border: { display: true, color: '#9a9a9a', width: 1.5 },
      ticks: {
        autoSkip: false,
        maxRotation: 0,
        minRotation: 0,
        align: 'start',
        padding: -3,
        color: '#ffffff',
        font: (c: any) => ({ family: FONT, size: 15, weight: /^[A-Za-z]/.test(tickText[c.index] || '') ? 'bold' : 'normal' }),
        callback: (_v: any, i: number) => tickText[i],
      },
    });
    // right value axis: labels right-aligned at x=2516; the long transparent tick only shifts labels,
    // negative padding cancels Chart.js' half-label inset so the plot fills the full height
    const yScale = (min: number, max: number, values: number[], tick: number, fmt: (v: number) => string) => ({
      type: 'linear',
      position: 'right',
      min,
      max,
      afterBuildTicks: (s: any) => {
        s.ticks = values.map((v) => ({ value: v }));
      },
      afterFit: (s: any) => {
        s.width = 69;
      },
      grid: { color: '#424242', lineWidth: 1, drawTicks: true, tickLength: tick, tickColor: 'rgba(0,0,0,0)' },
      border: { display: true, color: '#5a5a5a', width: 1, dash: [2, 3] },
      ticks: { color: '#ffffff', font: { family: FONT, size: 15 }, padding: -9, crossAlign: 'far', callback: (v: any) => fmt(Number(v)) },
    });

    const lineDs = (label: string, data: number[][], color: string, width: number, order: number) => ({
      type: 'line',
      label,
      data: pts(data),
      borderColor: color,
      borderWidth: width,
      pointRadius: 0,
      tension: 0,
      fill: false,
      order,
      yAxisID: 'y',
    });

    const price = new Chart(priceRef.current as HTMLCanvasElement, {
      type: 'bar',
      data: {
        datasets: [
          {
            type: 'bar',
            label: 'Volume',
            data: volume.map((v, i) => ({ x: i, y: v })),
            yAxisID: 'yv',
            backgroundColor: 'rgb(70,70,110)',
            barThickness: 2,
            grouped: false,
            order: 10,
          },
          lineDs('BB upper', bbUpper, '#727272', 1, 9),
          lineDs('BB lower', bbLower, '#727272', 1, 9),
          lineDs('MA long', maLong, '#ffa65c', 1.3, 8),
          lineDs('MA mid', maMid, '#1ee81e', 1.3, 7),
          lineDs('MA fast', maFast, '#1414ff', 1.3, 6),
          {
            type: 'bar',
            label: 'Wick',
            data: high.map((h, i) => ({ x: i, y: [low[i], h] })),
            yAxisID: 'y',
            backgroundColor: candleColor,
            barThickness: 1,
            grouped: false,
            order: 2,
          },
          {
            type: 'bar',
            label: 'Body',
            data: open.map((o, i) => ({ x: i, y: [Math.min(o, close[i]), Math.max(o, close[i])] })),
            yAxisID: 'y',
            backgroundColor: up.map((u) => (u ? '#000000' : DOWN)),
            borderColor: candleColor,
            borderWidth: up.map((u) => (u ? 1.5 : 0)),
            borderSkipped: false,
            barThickness: 7,
            grouped: false,
            order: 1,
          },
        ],
      } as any,
      options: {
        responsive: false,
        animation: false,
        events: [],
        layout: { padding: 0 },
        plugins: { legend: { display: false }, tooltip: { enabled: false } },
        scales: {
          x: xScale(true),
          y: yScale(Y_MIN, Y_MAX, priceTicks, 57.3, (v) => String(v)),
          yv: { type: 'linear', display: false, min: 0, max: VOL_MAX },
        },
      } as any,
      plugins: [pricePlugin],
    });

    const macd = new Chart(macdRef.current as HTMLCanvasElement, {
      type: 'bar',
      data: {
        datasets: [
          {
            type: 'bar',
            label: 'Histogram',
            data: macdHist.map((v, i) => ({ x: i, y: v })),
            backgroundColor: '#d6d6d6',
            barThickness: 1,
            grouped: false,
            order: 5,
          },
          lineDs('MACD', macdLine, '#ff0000', 1.4, 2),
          lineDs('Signal', signalLine, '#0000ff', 1.4, 3),
        ],
      } as any,
      options: {
        responsive: false,
        animation: false,
        events: [],
        layout: { padding: { left: 0, right: 0, top: 0, bottom: 16 } },
        plugins: { legend: { display: false }, tooltip: { enabled: false } },
        scales: {
          x: xScale(false),
          y: yScale(M_MIN, M_MAX, macdTicks, 48.2, (v) => v.toFixed(1)),
        },
      } as any,
      plugins: [macdPlugin],
    });

    return () => {
      price.destroy();
      macd.destroy();
    };
  }, []);

  return (
    <div style={{ position: 'fixed', left: 0, top: 0, width: 2520, height: 1238, background: '#000', overflow: 'hidden' }}>
      <canvas ref={priceRef} width={2520} height={1027} style={{ position: 'absolute', left: 0, top: 0, width: 2520, height: 1027 }} />
      <canvas ref={macdRef} width={2520} height={211} style={{ position: 'absolute', left: 0, top: 1027, width: 2520, height: 211 }} />
    </div>
  );
}
